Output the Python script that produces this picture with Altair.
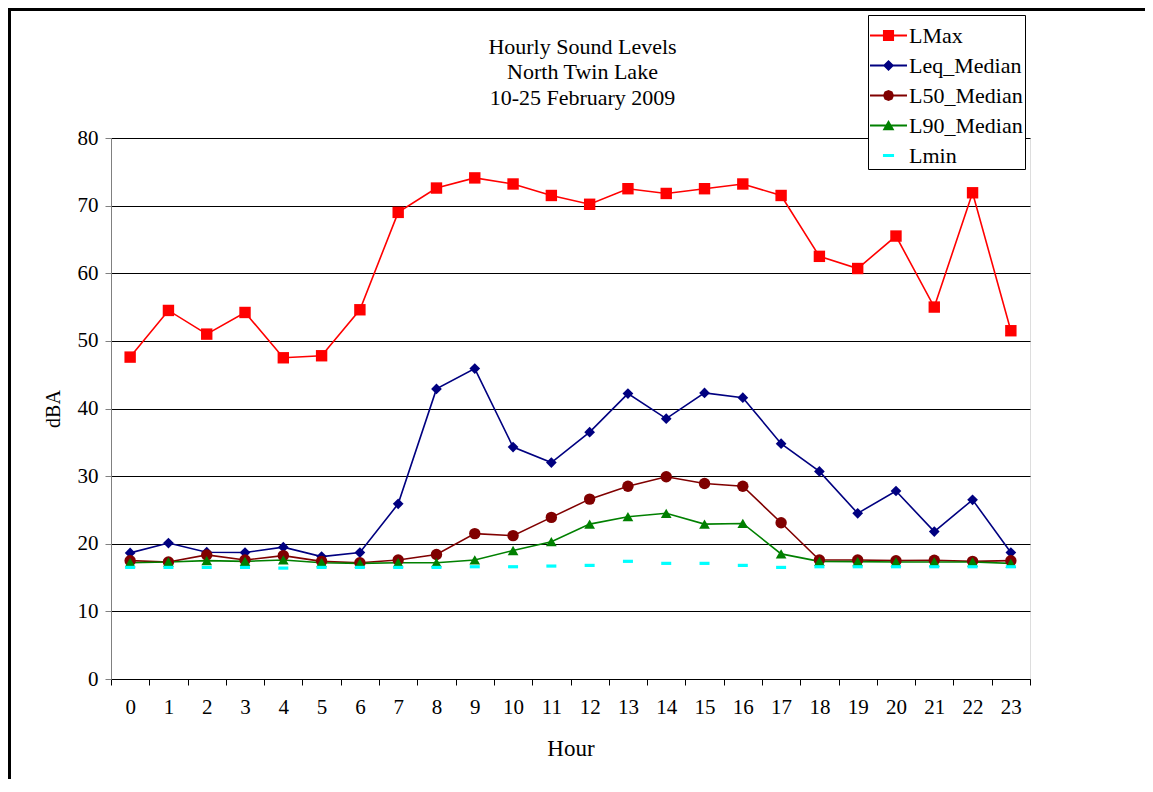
import altair as alt
import pandas as pd

# ---- data ----
hours = list(range(24))
series_names = ["LMax", "Leq_Median", "L50_Median", "L90_Median", "Lmin"]
lmax = [47.6, 54.5, 51.0, 54.2, 47.5, 47.8, 54.6, 69.0, 72.6, 74.1, 73.2, 71.5,
        70.2, 72.5, 71.8, 72.5, 73.2, 71.5, 62.5, 60.7, 65.5, 55.0, 71.9, 51.5]
leq = [18.65, 20.1, 18.75, 18.7, 19.5, 18.1, 18.7, 25.9, 42.9, 45.9, 34.3, 32.0,
       36.5, 42.2, 38.5, 42.3, 41.6, 34.8, 30.7, 24.5, 27.8, 21.8, 26.5, 18.7]
l50 = [17.5, 17.3, 18.35, 17.6, 18.25, 17.4, 17.2, 17.6, 18.4, 21.5, 21.2, 23.9,
       26.6, 28.5, 29.9, 28.9, 28.5, 23.1, 17.6, 17.6, 17.5, 17.55, 17.4, 17.5]
l90 = [17.2, 17.3, 17.5, 17.4, 17.6, 17.2, 17.1, 17.2, 17.2, 17.6, 19.0, 20.3,
       22.9, 24.0, 24.5, 22.9, 23.0, 18.5, 17.4, 17.35, 17.3, 17.3, 17.3, 17.1]
lmin = [16.5, 16.5, 16.5, 16.5, 16.4, 16.5, 16.5, 16.5, 16.5, 16.6, 16.6, 16.7,
        16.8, 17.4, 17.1, 17.1, 16.8, 16.5, 16.6, 16.6, 16.6, 16.6, 16.6, 16.6]
colors = ["#FF0000", "#000080", "#800000", "#008000", "#00FFFF"]
title_lines = ["Hourly Sound Levels", "North Twin Lake", "10-25 February 2009"]

values = [lmax, leq, l50, l90, lmin]
rows = []
for name, vals in zip(series_names, values):
    for h, v in zip(hours, vals):
        rows.append({"hour": h, "series": name, "dBA": v})
df = pd.DataFrame(rows)

FONT = "Liberation Serif"
FS = 21
W, H = 919, 541

x_enc = alt.X("hour:O", title="Hour",
              scale=alt.Scale(paddingInner=0, paddingOuter=0),
              axis=alt.Axis(labelAngle=0, tickBand="extent", grid=False,
                            domainColor="#000000", tickColor="#000000",
                            tickSize=6, labelPadding=11, titlePadding=20,
                            labelFontSize=FS, titleFontSize=23,
                            labelFont=FONT, titleFont=FONT,
                            labelColor="#000", titleColor="#000",
                            titleFontWeight="normal"))
y_enc = alt.Y("dBA:Q", title="dBA",
              scale=alt.Scale(domain=[0, 80], nice=False),
              axis=alt.Axis(values=list(range(0, 81, 10)), grid=True,
                            gridColor="#000000", gridWidth=1,
                            domainColor="#808080", tickColor="#808080",
                            tickSize=6, labelPadding=7, titlePadding=14,
                            labelFontSize=FS, titleFontSize=20,
                            labelFont=FONT, titleFont=FONT,
                            labelColor="#000", titleColor="#000",
                            titleFontWeight="normal"))

color_scale = alt.Scale(domain=series_names, range=colors)
base = alt.Chart(df)

marker_shapes = {
    "LMax": ("square", 130),
    "Leq_Median": ("diamond", 115),
    "L50_Median": ("circle", 130),
    "L90_Median": ("triangle-up", 115),
    "Lmin": ("M-1,-0.32L1,-0.32L1,0.32L-1,0.32Z", 100),
}
line_layers, point_layers = [], []
for name, col in zip(series_names, colors):
    sub = base.transform_filter(alt.datum.series == name)
    if name != "Lmin":
        line_layers.append(sub.mark_line(strokeWidth=1.6, color=col).encode(x=x_enc, y=y_enc))
    shp, sz = marker_shapes[name]
    point_layers.append(
        sub.mark_point(filled=True, shape=shp, size=sz, color=col, opacity=1,
                       strokeWidth=0).encode(x=x_enc, y=y_enc)
    )

# legend symbols: line + marker as custom paths (unit = half of 37px)
legend_paths = [
    "M-1,-0.05L1,-0.05L1,0.05L-1,0.05Z M-0.3,-0.3L0.3,-0.3L0.3,0.3L-0.3,0.3Z",
    "M-1,-0.05L1,-0.05L1,0.05L-1,0.05Z M0,-0.3L0.3,0L0,0.3L-0.3,0Z",
    "M-1,-0.05L1,-0.05L1,0.05L-1,0.05Z M-0.3,0L-0.21,-0.21L0,-0.3L0.21,-0.21L0.3,0L0.21,0.21L0,0.3L-0.21,0.21Z",
    "M-1,-0.05L1,-0.05L1,0.05L-1,0.05Z M0,-0.3L0.32,0.25L-0.32,0.25Z",
    "M-0.3,-0.08L0.3,-0.08L0.3,0.08L-0.3,0.08Z",
]
leg = dict(title=None, orient="none", legendX=757, legendY=-123,
           strokeColor="#000000", fillColor="#FFFFFF",
           padding=2, labelFont=FONT, labelFontSize=22, labelColor="#000",
           symbolOpacity=1, symbolSize=1369, symbolStrokeWidth=0,
           rowPadding=0, labelOffset=2)
legend_layer = base.mark_point(filled=True, size=1369, opacity=0, strokeWidth=0).encode(
    x=x_enc, y=y_enc,
    color=alt.Color("series:N", scale=color_scale, legend=alt.Legend(**leg)),
    shape=alt.Shape("series:N", scale=alt.Scale(domain=series_names, range=legend_paths),
                    legend=alt.Legend(**leg)),
)

frame = alt.Chart(pd.DataFrame({"k": [0]})).mark_rect(
    fill=None, stroke="#000000", strokeWidth=3
).encode(x=alt.value(-101.5), x2=alt.value(1200), y=alt.value(-128.5), y2=alt.value(900))

chart = alt.layer(frame, *line_layers, *point_layers, legend_layer).properties(
    width=W, height=H,
    padding={"left": 103, "top": 130, "right": 115, "bottom": 100},
    autosize=alt.AutoSizeParams(type="none"),
    title=alt.TitleParams(text=title_lines, font=FONT, fontSize=22, fontWeight="normal",
                          lineHeight=25.5, anchor="middle", dx=12, dy=127.5, offset=26,
                          color="#000"),
).configure_view(stroke=None).configure(background="#FFFFFF")

chart.save("out.html", embed_options={"renderer": "svg", "actions": False})
